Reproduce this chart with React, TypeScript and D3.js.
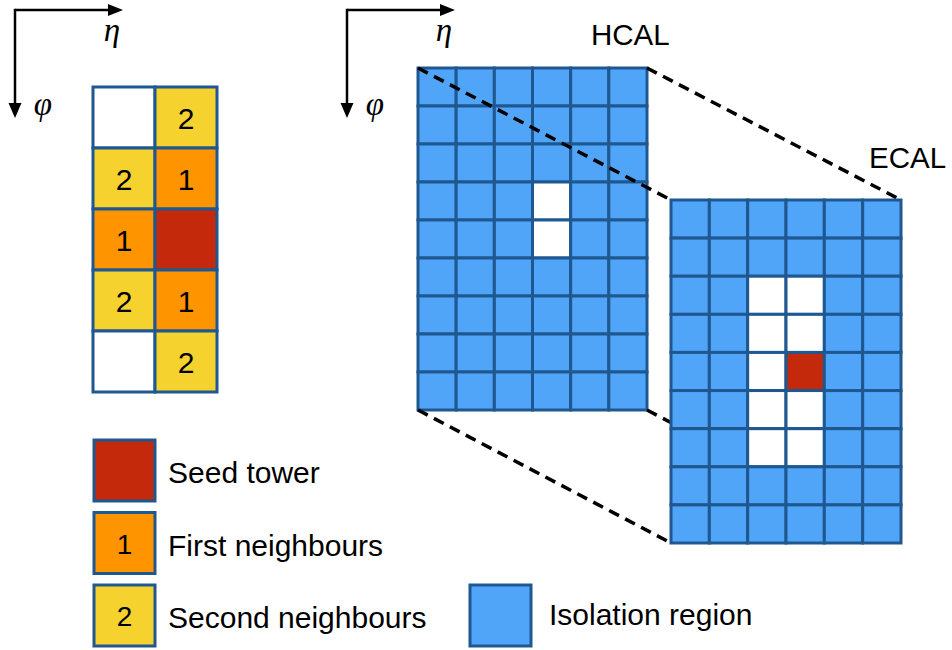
import React from "react";
import * as d3 from "d3";

// ---- data ----
// left cluster grid: 2 columns (eta) x 5 rows (phi); 0 = seed, 1 = first, 2 = second, -1 = empty
const clusterRows = [
  [-1, 2],
  [2, 1],
  [1, 0],
  [2, 1],
  [-1, 2],
];
const levelLabels = ["", "1", "2"];
const levelColors = ["#c5290b", "#fd9400", "#f5d22e"];

// HCAL: 6 columns x 9 rows, white holes
const hcalCols = 6;
const hcalRows = 9;
const hcalHoles = [
  [3, 3],
  [3, 4],
];
// ECAL: 6 columns x 9 rows
const ecalCols = 6;
const ecalRows = 9;
const ecalHoles = [
  [2, 2], [3, 2],
  [2, 3], [3, 3],
  [2, 4],
  [2, 5], [3, 5],
  [2, 6], [3, 6],
];
const ecalSeed = [3, 4];

const legendItems = [
  { label: "Seed tower", level: 0 },
  { label: "First neighbours", level: 1 },
  { label: "Second neighbours", level: 2 },
];
const isolationLabel = "Isolation region";

const BLUE = "#50a5f8";
const EDGE = "#1f5890";
const SANS = "'Liberation Sans', Arial, Helvetica, sans-serif";
const SERIF = "'Liberation Serif', 'Times New Roman', serif";

function Axes({ x, y }: { x: number; y: number }) {
  return (
    <g>
      <line x1={x} y1={y} x2={x + 95} y2={y} stroke="#000" strokeWidth={2.5} />
      <path d={`M${x + 108},${y} L${x + 93},${y - 6} L${x + 93},${y + 6} Z`} fill="#000" />
      <line x1={x} y1={y - 1.2} x2={x} y2={y + 95} stroke="#000" strokeWidth={2.5} />
      <path d={`M${x},${y + 108} L${x - 6.5},${y + 93} L${x + 6.5},${y + 93} Z`} fill="#000" />
      <text x={x + 97} y={y + 31} fontFamily={SERIF} fontStyle="italic" fontSize={33} textAnchor="middle">η</text>
      <text x={x + 28} y={y + 105} fontFamily={SERIF} fontStyle="italic" fontSize={33} textAnchor="middle">φ</text>
    </g>
  );
}

function Grid({
  x0, y0, w, h, cols, rows, holes, seed,
}: {
  x0: number; y0: number; w: number; h: number; cols: number; rows: number;
  holes: number[][]; seed?: number[];
}) {
  const xs = d3.scaleLinear().domain([0, cols]).range([x0, x0 + w]);
  const ys = d3.scaleLinear().domain([0, rows]).range([y0, y0 + h]);
  const cells: JSX.Element[] = [];
  for (let r = 0; r < rows; r++) {
    for (let c = 0; c < cols; c++) {
      const isHole = holes.some(([hc, hr]) => hc === c && hr === r);
      const isSeed = seed && seed[0] === c && seed[1] === r;
      const fill = isSeed ? levelColors[0] : isHole ? "#ffffff" : BLUE;
      cells.push(
        <rect key={`${c}-${r}`} x={xs(c)} y={ys(r)} width={xs(c + 1) - xs(c)} height={ys(r + 1) - ys(r)}
          fill={fill} stroke={EDGE} strokeWidth={3} />
      );
    }
  }
  return <g>{cells}</g>;
}

export default function App() {
  // left cluster
  const lx = d3.scaleLinear().domain([0, 2]).range([93, 217]);
  const ly = d3.scaleLinear().domain([0, 5]).range([87, 392]);

  const hcal = { x0: 418, y0: 68, w: 229, h: 342 };
  const ecal = { x0: 671, y0: 200, w: 230, h: 343 };
  const corners = (g: typeof hcal) => [
    [g.x0, g.y0], [g.x0 + g.w, g.y0], [g.x0, g.y0 + g.h], [g.x0 + g.w, g.y0 + g.h],
  ];
  const hc = corners(hcal);
  const ec = corners(ecal);

  const legY = d3.scaleLinear().domain([0, 1]).range([440, 512.5]);

  return (
    <svg width={952} height={650} style={{ position: "absolute", left: 0, top: 0, background: "#fff" }}>
      <Axes x={15} y={10} />
      <Axes x={347} y={10} />

      {/* left cluster */}
      {clusterRows.map((row, r) =>
        row.map((lev, c) => (
          <g key={`l${r}-${c}`}>
            <rect x={lx(c)} y={ly(r)} width={lx(c + 1) - lx(c)} height={ly(r + 1) - ly(r)}
              fill={lev < 0 ? "#ffffff" : levelColors[lev]} stroke={EDGE} strokeWidth={3} />
            {lev > 0 && (
              <text x={(lx(c) + lx(c + 1)) / 2} y={(ly(r) + ly(r + 1)) / 2 + 11}
                textAnchor="middle" fontFamily={SANS} fontSize={30} fill="#000">{levelLabels[lev]}</text>
            )}
          </g>
        ))
      )}

      {/* HCAL */}
      <Grid {...hcal} cols={hcalCols} rows={hcalRows} holes={hcalHoles} />
      {hc.map((p, i) => (
        <line key={`d${i}`} x1={p[0]} y1={p[1]} x2={ec[i][0]} y2={ec[i][1]}
          stroke="#000" strokeWidth={3.5} strokeDasharray="11 7" />
      ))}
      {/* ECAL */}
      <Grid {...ecal} cols={ecalCols} rows={ecalRows} holes={ecalHoles} seed={ecalSeed} />

      <text x={591} y={45} fontFamily={SANS} fontSize={29.5} fill="#000">HCAL</text>
      <text x={869} y={168} fontFamily={SANS} fontSize={29.5} fill="#000">ECAL</text>

      {/* legend */}
      {legendItems.map((it, i) => (
        <g key={it.label}>
          <rect x={94} y={legY(i)} width={61} height={61} fill={levelColors[it.level]} stroke={EDGE} strokeWidth={3} />
          {it.level > 0 && (
            <text x={124.5} y={legY(i) + 41} textAnchor="middle" fontFamily={SANS} fontSize={28} fill="#000">
              {levelLabels[it.level]}
            </text>
          )}
          <text x={168} y={legY(i) + 43} fontFamily={SANS} fontSize={30} fill="#000">{it.label}</text>
        </g>
      ))}
      <rect x={470} y={585} width={61} height={61} fill={BLUE} stroke={EDGE} strokeWidth={3} />
      <text x={549} y={625} fontFamily={SANS} fontSize={30} fill="#000">{isolationLabel}</text>
    </svg>
  );
}
